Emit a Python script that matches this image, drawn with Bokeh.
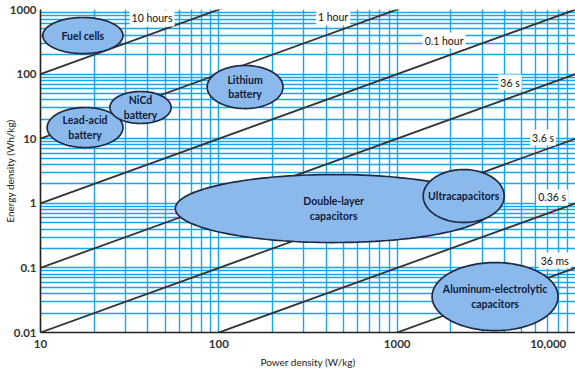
import numpy as np
from bokeh.plotting import figure
from bokeh.models import FixedTicker, Label
from bokeh.core.properties import value
from bokeh.embed import file_html
from bokeh.resources import INLINE

# ---------------- data ----------------
technologies = ["Fuel cells", "Lead-acid\nbattery", "NiCd\nbattery", "Lithium\nbattery",
                "Double-layer\ncapacitors", "Ultracapacitors", "Aluminum-electrolytic\ncapacitors"]
power_min = [10.3, 10.9, 24.5, 86, 57, 1400, 1570]        # W/kg
power_max = [29, 29, 54, 229, 3400, 3980, 7980]           # W/kg
energy_min = [208, 7.3, 17.2, 29.3, 0.247, 0.505, 0.0107]  # Wh/kg
energy_max = [752, 30.4, 53.8, 136, 2.79, 3.33, 0.121]     # Wh/kg

discharge_hours = [10, 1, 0.1, 0.01, 0.001, 0.0001, 0.00001]
discharge_labels = ["10 hours", "1 hour", "0.1 hour", "36 s", "3.6 s", "0.36 s", "36 ms"]
label_power = [42.2, 437, 1832, 4295, 6577, 7400, 7650]
label_energy = [726, 752, 331, 74, 10.4, 1.23, 0.130]

x_ticks = [10, 100, 1000, 10000]
x_tick_labels = ["10", "100", "1000", "10,000"]
y_ticks = [0.01, 0.1, 1, 10, 100, 1000]
y_tick_labels = ["0.01", "0.1", "1", "10", "100", "1000"]

# ---------------- styles ----------------
GRID = "#17a6ee"
FILL = "#8cb9ec"
EDGE = "#1c2a44"
LINE = "#333333"
FONT = "Lato"

p = figure(x_axis_type="log", y_axis_type="log",
           x_range=(x_ticks[0], x_ticks[-1]), y_range=(y_ticks[0], y_ticks[-1]),
           frame_width=535, frame_height=323,
           output_backend="svg", toolbar_location=None,
           min_border_top=9, min_border_left=32, min_border_right=0, min_border_bottom=0)
p.outline_line_color = None
p.background_fill_color = "white"
p.border_fill_color = "white"

def minors(ticks):
    out = []
    for t in ticks[:-1]:
        out += [t * m for m in range(2, 10)]
    return out

xt = FixedTicker(ticks=x_ticks, minor_ticks=minors(x_ticks))
yt = FixedTicker(ticks=y_ticks, minor_ticks=minors(y_ticks))
p.xaxis.ticker = xt
p.yaxis.ticker = yt
p.xgrid.ticker = xt
p.ygrid.ticker = yt
for g in (p.xgrid, p.ygrid):
    g.grid_line_color = GRID
    g.grid_line_width = 1.4
    g.minor_grid_line_color = GRID
    g.minor_grid_line_width = 1.4

x_over = {t: l for t, l in zip(x_ticks, x_tick_labels)}
# last x label sits at the plot's right edge: pad it so it reads right-aligned
x_over[x_ticks[-1]] = x_tick_labels[-1] + "\u2007\u2008"
y_over = {t: l for t, l in zip(y_ticks, y_tick_labels)}
p.xaxis.major_label_overrides = x_over
p.yaxis.major_label_overrides = y_over

for ax in (p.xaxis, p.yaxis):
    ax.axis_line_color = "#222222"
    ax.axis_line_width = 1.6
    ax.major_tick_line_color = None
    ax.minor_tick_line_color = None
    ax.major_tick_out = 0
    ax.major_tick_in = 0
    ax.minor_tick_out = 0
    ax.minor_tick_in = 0
    ax.major_label_text_font = FONT
    ax.major_label_text_font_size = "11.5px"
    ax.major_label_text_font_style = "bold"
    ax.major_label_text_color = "#333333"
    ax.axis_label_text_font = FONT
    ax.axis_label_text_font_size = "10px"
    ax.axis_label_text_font_style = "normal"
    ax.axis_label_text_color = "#222222"
    ax.major_label_standoff = 4

p.xaxis.axis_label = "Power density (W/kg)"
p.yaxis.axis_label = "Energy density (Wh/kg)"
p.yaxis.axis_label_standoff = -9
p.xaxis.axis_label_standoff = 3

# constant discharge-time lines: E = t * P
xs_lines = [[x_ticks[0], x_ticks[-1]] for _ in discharge_hours]
ys_lines = [[h * x_ticks[0], h * x_ticks[-1]] for h in discharge_hours]
p.multi_line(xs_lines, ys_lines, line_color=LINE, line_width=1.8)

# technology regions as ellipses in log-log space
t = np.linspace(0, 2 * np.pi, 160)
exs, eys, cxs, cys = [], [], [], []
for pmin, pmax, emin, emax in zip(power_min, power_max, energy_min, energy_max):
    lx0, lx1 = np.log10(pmin), np.log10(pmax)
    ly0, ly1 = np.log10(emin), np.log10(emax)
    cx, rx = (lx0 + lx1) / 2, (lx1 - lx0) / 2
    cy, ry = (ly0 + ly1) / 2, (ly1 - ly0) / 2
    exs.append(list(10 ** (cx + rx * np.cos(t))))
    eys.append(list(10 ** (cy + ry * np.sin(t))))
    cxs.append(10 ** cx)
    cys.append(10 ** cy)

for i in range(len(technologies)):
    p.patch(exs[i], eys[i], fill_color=FILL, line_color=EDGE, line_width=1.7)

p.text(x=cxs, y=cys, text=technologies, text_align="center", text_baseline="middle",
       text_font=value(FONT), text_font_style="bold", text_font_size="10.5px",
       text_color="#0f1b38", text_line_height=1.2)

# discharge-time labels
for px, ey, lab in zip(label_power, label_energy, discharge_labels):
    p.add_layout(Label(x=px, y=ey, text=lab, text_align="center", text_baseline="middle",
                       text_font=FONT, text_font_size="10.5px", text_color="#111111",
                       background_fill_color="white", padding=2))

open("out.html", "w").write(file_html(p, INLINE))
